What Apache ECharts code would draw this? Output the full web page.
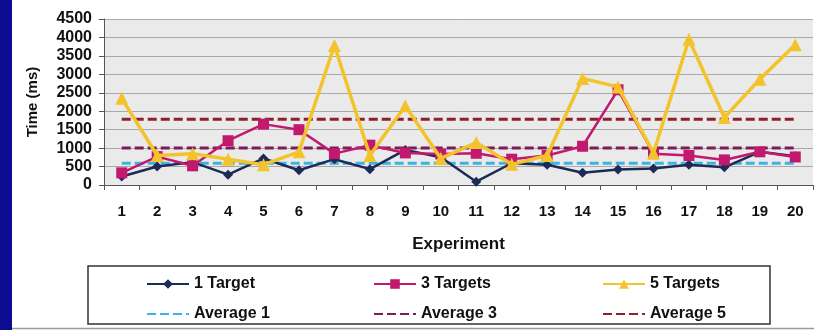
<!DOCTYPE html>
<html>
<head>
<meta charset="utf-8">
<script src="https://cdn.jsdelivr.net/npm/echarts@6/dist/echarts.min.js"></script>
<style>
  html, body { margin: 0; padding: 0; background: #ffffff; }
  #chart { width: 814px; height: 330px; }
</style>
</head>
<body>
<div id="chart"></div>
<script>
// Experiment numbers along the x axis
const experiments = ['1','2','3','4','5','6','7','8','9','10','11','12','13','14','15','16','17','18','19','20'];

// Response times (ms) per experiment
const oneTarget   = [230, 500, 620, 280, 720, 400, 700, 430, 950, 750, 90, 590, 550, 330, 420, 450, 550, 480, 900, 780];
const threeTargets = [330, 770, 520, 1200, 1650, 1500, 850, 1080, 870, 840, 860, 700, 800, 1050, 2580, 850, 800, 680, 900, 760];
const fiveTargets = [2350, 800, 850, 700, 550, 900, 3780, 800, 2150, 720, 1150, 560, 800, 2890, 2660, 870, 3950, 1830, 2870, 3800];

// Mean response time for each target count
const average1 = 590;
const average3 = 1000;
const average5 = 1780;

// Y axis scale
const yMin = 0, yMax = 4500, yStep = 500;

const FONT = '"Liberation Sans", Arial, sans-serif';

const flat = v => experiments.map(() => v);

function avgSeries(name, value, color) {
  return {
    name, type: 'line', data: flat(value), symbol: 'none', z: 1,
    lineStyle: { color, width: 3, type: [9, 4] },
    itemStyle: { color }
  };
}

const legendText = { fontFamily: FONT, fontWeight: 'bold', fontSize: 16, color: '#111' };
// Each legend column: a marker series above its dashed average line
function legendCol(left, names) {
  return {
    orient: 'vertical', left, top: 271, itemWidth: 42, itemHeight: 12, itemGap: 14,
    textStyle: legendText, selectedMode: false,
    data: [names[0], { name: names[1], itemStyle: { opacity: 0 } }]
  };
}

const chart = echarts.init(document.getElementById('chart'), null, { renderer: 'canvas' });
chart.setOption({
  backgroundColor: '#ffffff',
  animation: false,
  graphic: [
    { type: 'rect', shape: { x: 0, y: 0, width: 12, height: 330 }, style: { fill: '#0c0c92' }, z: 100 },
    { type: 'rect', shape: { x: 88, y: 266, width: 682, height: 58 }, style: { fill: '#ffffff', stroke: '#333', lineWidth: 1.5 }, z: -1 },
    { type: 'line', shape: { x1: 12, y1: 328.5, x2: 814, y2: 328.5 }, style: { stroke: '#9a9a9a', lineWidth: 1.5 } }
  ],
  grid: {
    left: 104, right: 1, top: 19, bottom: 145,
    show: true, backgroundColor: '#eaeaea', borderColor: '#9a9a9a', borderWidth: 0
  },
  legend: [
    legendCol(141, ['1 Target', 'Average 1']),
    legendCol(368, ['3 Targets', 'Average 3']),
    legendCol(597, ['5 Targets', 'Average 5'])
  ],
  xAxis: {
    type: 'category', data: experiments, boundaryGap: true,
    name: 'Experiment', nameLocation: 'middle', nameGap: 51,
    nameTextStyle: { fontFamily: FONT, fontWeight: 'bold', fontSize: 17, color: '#111' },
    axisLine: { lineStyle: { color: '#555', width: 1 } },
    axisTick: { show: true, interval: 0, length: 5, lineStyle: { color: '#555' } },
    axisLabel: { interval: 0, margin: 19, fontFamily: FONT, fontWeight: 'bold', fontSize: 15, color: '#111' }
  },
  yAxis: {
    type: 'value', min: yMin, max: yMax, interval: yStep,
    name: 'Time (ms)', nameLocation: 'middle', nameGap: 64, nameRotate: 90,
    nameTextStyle: { fontFamily: FONT, fontWeight: 'bold', fontSize: 15, color: '#111' },
    axisLine: { show: true, lineStyle: { color: '#555', width: 1 } },
    axisTick: { show: true, length: 5, lineStyle: { color: '#555' } },
    axisLabel: { margin: 12, fontFamily: FONT, fontWeight: 'bold', fontSize: 16, color: '#111',
                 formatter: v => String(v) },
    splitLine: { lineStyle: { color: '#a9a9a9', width: 1 } }
  },
  series: [
    {
      name: '1 Target', type: 'line', data: oneTarget, z: 3,
      symbol: 'diamond', symbolSize: 10,
      lineStyle: { color: '#1c2a58', width: 2.5 }, itemStyle: { color: '#1c2a58' }
    },
    {
      name: '3 Targets', type: 'line', data: threeTargets, z: 4,
      symbol: 'rect', symbolSize: 11,
      lineStyle: { color: '#c2196e', width: 2.5 }, itemStyle: { color: '#c2196e' }
    },
    {
      name: '5 Targets', type: 'line', data: fiveTargets, z: 5,
      symbol: 'triangle', symbolSize: 13,
      lineStyle: { color: '#f3c32c', width: 3.5 }, itemStyle: { color: '#f3c32c' }
    },
    avgSeries('Average 1', average1, '#3bb4e2'),
    avgSeries('Average 3', average3, '#7a1c58'),
    avgSeries('Average 5', average5, '#8e1f2c')
  ]
});
</script>
</body>
</html>
